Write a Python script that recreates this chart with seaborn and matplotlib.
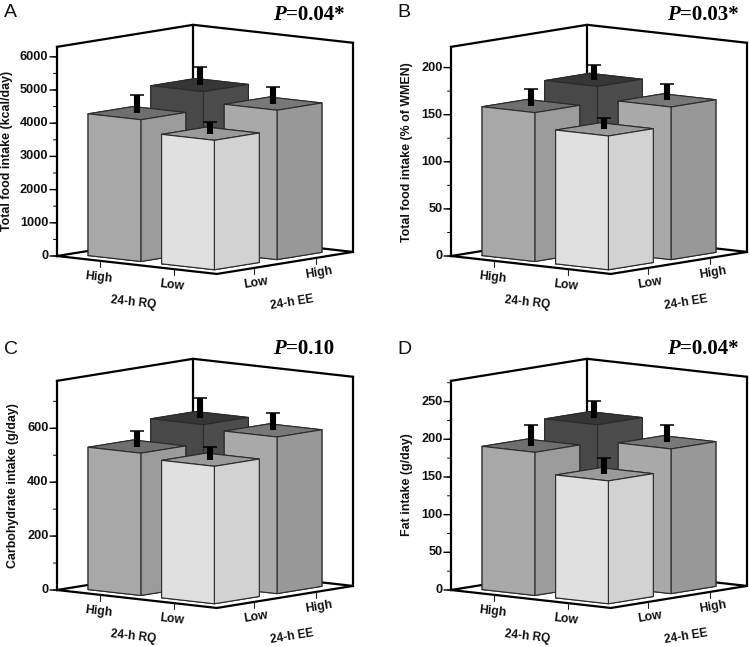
import numpy as np
import seaborn as sns
import matplotlib
matplotlib.use("Agg")
import matplotlib.pyplot as plt
from mpl_toolkits.mplot3d import proj3d

# bar order everywhere: RQ High/EE High, RQ High/EE Low, RQ Low/EE High, RQ Low/EE Low
rq_labels = ["High", "Low"]
ee_labels = ["Low", "High"]

kcal_values = [4810, 4270, 4500, 3900]
kcal_errors = [534, 534, 514, 342]
wmen_values = [175, 158, 162, 142]
wmen_errors = [16.3, 17.7, 17.7, 11.7]
carb_values = [596, 528, 581, 510]
carb_errors = [73, 58, 63, 46]
fat_values = [213, 190, 192, 163]
fat_errors = [23.5, 27.5, 23.5, 22]

panel_letters = ["A", "B", "C", "D"]
p_texts = ["=0.04*", "=0.03*", "=0.10", "=0.04*"]
y_titles = ["Total food intake (kcal/day)", "Total food intake (% of WMEN)",
            "Carbohydrate intake (g/day)", "Fat intake (g/day)"]

sns.set_theme(style="white", font="Liberation Sans")

W, H = 750, 647
FONT_BOLD = dict(fontweight="bold", color="#111111")
# top, left face, right face
bar_colors = [("#363636", "#484848", "#4c4c4c"),
              ("#6f6f6f", "#a8a8a8", "#9b9b9b"),
              ("#787878", "#a9a9a9", "#989898"),
              ("#9a9a9a", "#e0e0e0", "#d2d2d2")]
centers = [0.27, 0.73]
bar_w = 0.33
RQ_ANGLE, EE_ANGLE = -6.4, 9.2
# one screen pixel to the left, in floor units
PX_X, PX_Y = 0.0037, 0.00303


def to_display(ax, x, y, z):
    px, py, _ = proj3d.proj_transform(x, y, z, ax.get_proj())
    return ax.transData.transform((px, py))


def place_axes(ax, left, floor_y):
    # scale and move the 3d box so its left corner and right corner land on the wanted pixels
    size = 300.0
    ax.set_position([0.1, 0.1, size / W, size / H])
    ax.apply_aspect()
    a, b = to_display(ax, 0, 0, 0), to_display(ax, 1, 1, 0)
    size *= 296.0 / (b[0] - a[0])
    ax.set_position([0.1, 0.1, size / W, size / H])
    ax.apply_aspect()
    a = to_display(ax, 0, 0, 0)
    x0 = (0.1 * W + left - a[0]) / W
    y0 = (0.1 * H + (H - floor_y) - a[1]) / H
    ax.set_position([x0, y0, size / W, size / H])
    ax.apply_aspect()


def label_at(fig, ax, x, y, z, s, angle=0, ha="center", size=8.8):
    # Text3D reports its unprojected place, so put the label on the figure instead
    dx, dy = to_display(ax, x, y, z)
    fig.text(dx / W, dy / H, s, rotation=angle, rotation_mode="anchor", ha=ha, va="center",
             fontsize=size, **FONT_BOLD)


def draw_panel(fig, left, floor_y, values, errors, zmax, major, minor, ytitle, ytitle_x, ytitle_y):
    ax = fig.add_subplot(projection="3d", computed_zorder=False)
    ax.set_proj_type("ortho")
    ax.view_init(elev=7.75, azim=-50.2)
    ax.set_box_aspect((208, 212.6, 211))
    ax.set_xlim(0, 1, view_margin=0)
    ax.set_ylim(0, 1, view_margin=0)
    ax.set_zlim(0, zmax, view_margin=0)
    ax.set_xticks([])
    ax.set_yticks([])
    ax.set_zticks([])
    ax.autoscale(False)
    ax.set_axis_off()
    ax.patch.set_alpha(0)
    place_axes(ax, left, floor_y)

    zpx = zmax / 209.0
    frame = dict(color="black", lw=1.6, solid_capstyle="projecting", zorder=1)
    # back walls and floor
    ax.plot([0, 0, 1], [0, 1, 1], [zmax, zmax, zmax], **frame)
    ax.plot([0, 0], [1, 1], [0, zmax], **frame)
    ax.plot([0, 0], [0, 0], [0, zmax], **frame)
    ax.plot([1, 1], [1, 1], [0, zmax], **frame)
    ax.plot([0, 1, 1, 0, 0], [0, 0, 1, 1, 0], [0, 0, 0, 0, 0], **frame)

    # value axis
    for tick in np.arange(0, zmax + 1e-6, minor):
        ax.plot([0, -3.5 * PX_X], [0, -3.5 * PX_Y], [tick, tick], color="black", lw=0.7, zorder=1)
    for tick in np.arange(0, zmax + 1e-6, major):
        ax.plot([0, -7 * PX_X], [0, -7 * PX_Y], [tick, tick], color="black", lw=1.0, zorder=1)
        label_at(fig, ax, -8.5 * PX_X, -8.5 * PX_Y, tick, f"{tick:g}", ha="right", size=9.2)

    # category axes
    tick_z = -6 * zpx
    for c, name in zip(centers, rq_labels):
        ax.plot([c, c], [0, 0], [0, tick_z], color="#222222", lw=0.8, zorder=1)
        label_at(fig, ax, c - 0.01, 0, -16.5 * zpx, name, angle=RQ_ANGLE)
    for c, name in zip(centers, ee_labels):
        ax.plot([1, 1], [c, c], [0, tick_z], color="#222222", lw=0.8, zorder=1)
        label_at(fig, ax, 1, c + 0.015, -15.5 * zpx, name, angle=EE_ANGLE)
    label_at(fig, ax, 0.475, 0, -38.5 * zpx, "24-h RQ", angle=RQ_ANGLE, size=8.6)
    label_at(fig, ax, 1, 0.55, -41 * zpx, "24-h EE", angle=EE_ANGLE, size=8.6)

    # bars back to front, hidden faces take the top colour
    cells = [(0, 1), (0, 0), (1, 1), (1, 0)]
    for n, ((i, j), v, (top, lft, rgt)) in enumerate(zip(cells, values, bar_colors)):
        ax.bar3d(centers[i] - bar_w / 2, centers[j] - bar_w / 2, 0, bar_w, bar_w, v,
                 color=[top, top, lft, rgt, rgt, rgt], shade=False,
                 edgecolor="#2a2a2a", linewidth=0.8, zorder=2 + n)
    for (i, j), v, e in zip(cells, values, errors):
        ax.plot([centers[i]] * 2, [centers[j]] * 2, [v, v + e], color="black", lw=4.4,
                solid_capstyle="butt", zorder=10)
        ax.plot([centers[i]], [centers[j]], [v + e], marker="_", ms=9.5, mew=1.1,
                color="black", zorder=10)

    fig.text(ytitle_x / W, 1 - ytitle_y / H, ytitle, rotation=90, ha="center", va="center",
             fontsize=8.9, **FONT_BOLD)
    return ax


fig = plt.figure(figsize=(W / 100, H / 100), dpi=100)
fig.patch.set_facecolor("white")

draw_panel(fig, 57, 256, kcal_values, kcal_errors, 6300, 1000, 500, y_titles[0], 7, 151)
draw_panel(fig, 451, 256, wmen_values, wmen_errors, 222, 50, 25, y_titles[1], 407, 152)
draw_panel(fig, 57, 590, carb_values, carb_errors, 776, 200, 100, y_titles[2], 13, 485.5)
draw_panel(fig, 451, 590, fat_values, fat_errors, 277.5, 50, 25, y_titles[3], 407, 485)

letter_xy = [(4, 17), (397, 17), (4, 354), (397, 354)]
p_xy = [(273, 20), (667, 20), (273, 354), (667, 354)]
renderer = fig.canvas.get_renderer()
for letter, (lx, ly), txt, (px, py) in zip(panel_letters, letter_xy, p_texts, p_xy):
    fig.text(lx / W, 1 - ly / H, letter, fontsize=14, color="#111111", va="baseline")
    p = fig.text(px / W, 1 - py / H, "P", family="Liberation Serif", style="italic",
                 fontweight="bold", fontsize=15, color="black", va="baseline")
    pw = p.get_window_extent(renderer).width
    fig.text((px + pw) / W, 1 - py / H, txt, family="Liberation Serif", fontweight="bold",
             fontsize=15, color="black", va="baseline")

fig.savefig("out.png", dpi=100, facecolor="white")
